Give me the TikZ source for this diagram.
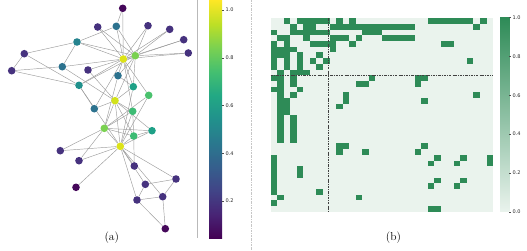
\documentclass[tikz,border=0pt]{standalone}
\usepackage{fontspec}
\newfontfamily\tickfont{DejaVu Sans}
\usetikzlibrary{backgrounds}
\definecolor{vir0}{HTML}{440154}
\definecolor{vir1}{HTML}{482475}
\definecolor{vir2}{HTML}{414487}
\definecolor{vir3}{HTML}{355F8D}
\definecolor{vir4}{HTML}{2A788E}
\definecolor{vir5}{HTML}{21918C}
\definecolor{vir6}{HTML}{22A884}
\definecolor{vir7}{HTML}{44BF70}
\definecolor{vir8}{HTML}{7AD151}
\definecolor{vir9}{HTML}{BDDF26}
\definecolor{vir10}{HTML}{FDE725}
\definecolor{vdark}{HTML}{45085A}
\definecolor{vpurp}{HTML}{46327E}
\definecolor{vblue}{HTML}{2C728E}
\definecolor{vteal}{HTML}{25838E}
\definecolor{vteal2}{HTML}{21918C}
\definecolor{vtg}{HTML}{1FA187}
\definecolor{vgreen}{HTML}{3DBC74}
\definecolor{vgreen2}{HTML}{4AC16D}
\definecolor{vlime}{HTML}{7AD151}
\definecolor{vyel}{HTML}{DDE318}
\definecolor{vyel2}{HTML}{D2E21B}
\definecolor{cedge}{HTML}{9C9C9C}
\definecolor{cdark}{HTML}{2E8B57}
\definecolor{cbg}{HTML}{EAF3ED}
\pgfdeclareverticalshading{viridis}{100bp}{color(0bp)=(vir0); color(25bp)=(vir0);
  color(30bp)=(vir1); color(35bp)=(vir2); color(40bp)=(vir3); color(45bp)=(vir4);
  color(50bp)=(vir5); color(55bp)=(vir6); color(60bp)=(vir7); color(65bp)=(vir8);
  color(70bp)=(vir9); color(75bp)=(vir10); color(100bp)=(vir10)}
% edges of the club graph, and the row of each member in the matrix
\def\kedges{0/1,0/2,0/3,0/4,0/5,0/6,0/7,0/8,0/10,0/11,0/12,0/13,0/17,0/19,0/21,0/31,1/2,1/3,1/7,1/13,1/17,1/19,1/21,1/30,2/3,2/7,2/8,2/9,2/13,2/27,2/28,2/32,3/7,3/12,3/13,4/6,4/10,5/6,5/10,5/16,6/16,8/30,8/32,8/33,9/33,13/33,14/32,14/33,15/32,15/33,18/32,18/33,19/33,20/32,20/33,22/32,22/33,23/25,23/27,23/29,23/32,23/33,24/25,24/27,24/31,25/31,26/29,26/33,27/33,28/31,28/33,29/32,29/33,30/32,30/33,31/32,31/33,32/33}
\def\kpos{{0,4,2,7,28,24,25,8,5,16,29,32,30,6,17,18,33,26,19,12,20,27,21,11,23,22,31,14,15,13,9,10,3,1}}

\begin{document}
\begin{tikzpicture}[x=1pt, y=-1pt,
    vn/.style={circle, inner sep=0pt, minimum size=7.6pt},
    link/.style={draw=cedge, line width=0.45pt},
    ticklab/.style={font=\tickfont\fontsize{5}{6}\selectfont, anchor=west, inner sep=0pt, text=black!85},
    tk/.style={draw=black!70, line width=0.4pt},
    capt/.style={font=\fontsize{11.5}{13}\selectfont, inner sep=0pt},
    cell/.style={fill=cdark},
    mline/.style={draw=black!75, line width=0.5pt, dash pattern=on 2.4pt off 1.2pt on 0.6pt off 1.2pt},
    sepline/.style={draw=gray!45, line width=0.5pt, dash pattern=on 2pt off 1pt on 0.6pt off 1pt}
  ]
  \useasboundingbox (0,0) rectangle (527,250);

  % (a) graph
  \node[vn, fill=vyel]    (k0)  at (120.3,146.3) {};
  \node[vn, fill=vlime]   (k1)  at (104.3,128.3) {};
  \node[vn, fill=vyel2]   (k2)  at (115,100.7) {};
  \node[vn, fill=vgreen]  (k3)  at (133.7,136) {};
  \node[vn, fill=vpurp]   (k4)  at (176,179) {};
  \node[vn, fill=vpurp]   (k5)  at (137,200) {};
  \node[vn, fill=vpurp]   (k6)  at (162.7,196.7) {};
  \node[vn, fill=vtg]     (k7)  at (152,130.7) {};
  \node[vn, fill=vtg]     (k8)  at (133.3,86.7) {};
  \node[vn, fill=vpurp]   (k9)  at (88,70) {};
  \node[vn, fill=vpurp]   (k10) at (145.3,184.3) {};
  \node[vn, fill=vdark]   (k11) at (76,187.3) {};
  \node[vn, fill=vpurp]   (k12) at (134.3,166) {};
  \node[vn, fill=vgreen]  (k13) at (132.7,111.3) {};
  \node[vn, fill=vpurp]   (k14) at (97.7,27) {};
  \node[vn, fill=vpurp]   (k15) at (148,25.7) {};
  \node[vn, fill=vdark]   (k16) at (165.3,228.7) {};
  \node[vn, fill=vpurp]   (k17) at (60.3,150.7) {};
  \node[vn, fill=vpurp]   (k18) at (169.7,29.3) {};
  \node[vn, fill=vgreen2] (k19) at (148.7,95.3) {};
  \node[vn, fill=vpurp]   (k20) at (183.7,39.7) {};
  \node[vn, fill=vpurp]   (k21) at (79,160.7) {};
  \node[vn, fill=vpurp]   (k22) at (188.3,53) {};
  \node[vn, fill=vteal]   (k23) at (77,42) {};
  \node[vn, fill=vpurp]   (k24) at (11.7,70.7) {};
  \node[vn, fill=vpurp]   (k25) at (24.3,53.7) {};
  \node[vn, fill=vdark]   (k26) at (122.7,8.3) {};
  \node[vn, fill=vblue]   (k27) at (62.3,66.7) {};
  \node[vn, fill=vblue]   (k28) at (94.3,108.7) {};
  \node[vn, fill=vblue]   (k29) at (116.3,26.3) {};
  \node[vn, fill=vblue]   (k30) at (118,75.7) {};
  \node[vn, fill=vteal2]  (k31) at (79,85.3) {};
  \node[vn, fill=vlime]   (k32) at (135.3,55.7) {};
  \node[vn, fill=vyel]    (k33) at (123.3,59) {};
  \begin{scope}[on background layer]
    \foreach \a/\b in \kedges \draw[link] (k\a) -- (k\b);
  \end{scope}

  \draw[gray!55, line width=0.5pt] (197.3,0) -- (197.3,238.3);
  \shade[shading=viridis] (209,0.4) rectangle (222,238.3);
  \foreach \v [count=\i] in {1.0,0.8,0.6,0.4,0.2} {
    \pgfmathsetmacro\yy{10+(1-\v)*238.75}
    \draw[tk] (222,\yy) -- (224,\yy);
    \node[ticklab] (la\i) at (225.3,\yy) {\v};
  }
  \node[capt] (capa) at (111.8,238) {(a)};

  \draw[sepline] (251.7,0) -- (251.7,250);

  % (b) matrix
  \fill[cbg] (270.7,18.3) rectangle (493,211.7);
  \begin{scope}[shift={(270.7,18.3)}, x=6.54pt, y=-5.69pt]
    \foreach \a/\b in \kedges {
      \pgfmathtruncatemacro\ra{\kpos[\a]}
      \pgfmathtruncatemacro\rb{\kpos[\b]}
      \fill[cell] (\rb,\ra) rectangle ++(1,1);
      \fill[cell] (\ra,\rb) rectangle ++(1,1);
    }
    \draw[mline] (0,10) -- (34,10);
    \draw[mline] (8.85,0) -- (8.85,34);
  \end{scope}

  \shade[bottom color=cbg, top color=cdark] (500,17.5) rectangle (509.3,211.7);
  \foreach \v [count=\i] in {1.0,0.8,0.6,0.4,0.2,0.0} {
    \pgfmathsetmacro\yy{211.7-\v*194.2}
    \draw[tk] (509.3,\yy) -- (511,\yy);
    \node[ticklab] (lb\i) at (512.4,\yy) {\v};
  }
  \node[capt] (capb) at (393.5,238) {(b)};
\end{tikzpicture}
\end{document}
